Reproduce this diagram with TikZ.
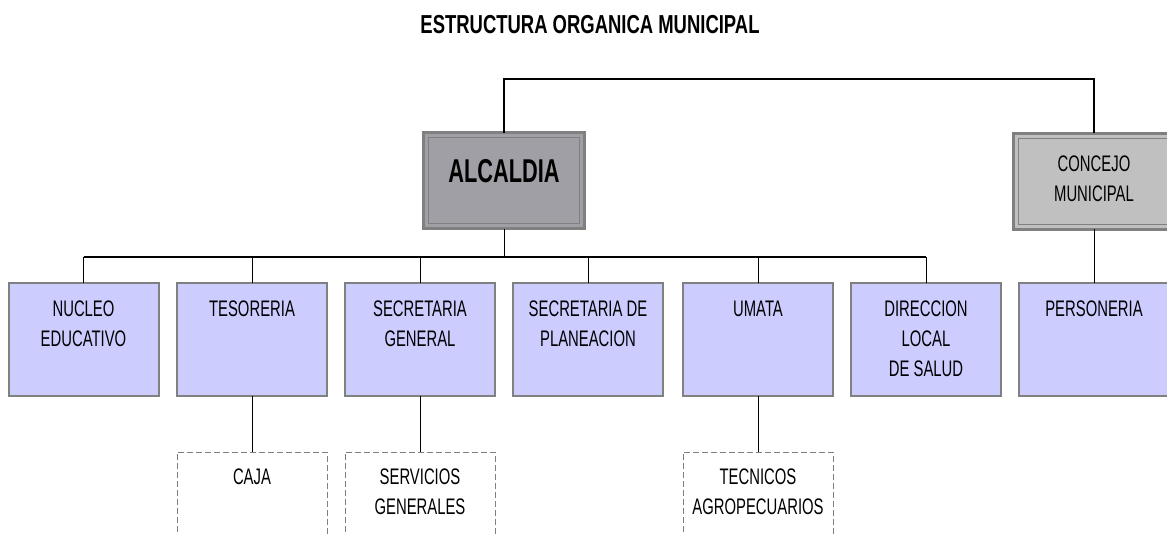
\documentclass[tikz,border=0pt]{standalone}
\usepackage{fontspec}
\setmainfont{Liberation Sans}[FakeStretch=0.66]
\newfontfamily\titlefont{Liberation Sans}[FakeStretch=0.71]
\usetikzlibrary{positioning}
\definecolor{bluefill}{HTML}{CCCCFF}
\definecolor{boxedge}{HTML}{808080}
\definecolor{alcfill}{HTML}{A09FA5}
\definecolor{conffill}{HTML}{C0C0C0}
\tikzset{
  unitbox/.style={draw=boxedge, line width=2pt, fill=bluefill, minimum width=150pt, minimum height=113pt, inner sep=0pt, outer sep=0pt},
  subbox/.style={draw=boxedge, line width=0.8pt, dash pattern=on 6pt off 3pt, minimum width=150pt, minimum height=130pt, inner sep=0pt, outer sep=0pt},
  headbox/.style={draw=boxedge, line width=3pt, minimum width=161pt, minimum height=96pt, inner sep=0pt, outer sep=0pt},
  inner/.style={draw=boxedge, line width=1pt},
  txt/.style={font=\fontsize{22.5}{30}\selectfont, align=center, anchor=north},
  bus/.style={line width=1.7pt, black},
  topbus/.style={line width=1.3pt, black},
  link/.style={line width=1pt, black},
}
\begin{document}
\begin{tikzpicture}[x=1pt,y=-1pt]
\useasboundingbox (0,0) rectangle (1167,533);
% title
\node[font=\titlefont\bfseries\fontsize{26}{30}\selectfont, anchor=base] (title) at (590,33) {ESTRUCTURA ORGANICA MUNICIPAL};
% head boxes
\node[headbox, fill=alcfill] (alc) at (504,180.5) {};
\draw[inner] ([shift={(5pt,5pt)}]alc.south west) rectangle ([shift={(-5pt,-5pt)}]alc.north east);
\node[font=\bfseries\fontsize{33}{36}\selectfont, anchor=base] (alct) at (504,182) {ALCALDIA};
\node[headbox, fill=conffill] (con) at (1094,181) {};
\draw[inner] ([shift={(5pt,5pt)}]con.south west) rectangle ([shift={(-5pt,-5pt)}]con.north east);
\node[txt] (cont) at (1094,152) {CONCEJO\\MUNICIPAL};
% unit boxes
\node[unitbox] (nuc) at (83.5,339.5) {};
\node[unitbox] (tes) at (252,339.5) {};
\node[unitbox] (sg) at (420,339.5) {};
\node[unitbox] (sp) at (588,339.5) {};
\node[unitbox] (uma) at (758,339.5) {};
\node[unitbox] (dir) at (926,339.5) {};
\node[unitbox] (per) at (1094,339.5) {};
\node[txt] at ([yshift=-14pt]nuc.north) {NUCLEO\\EDUCATIVO};
\node[txt] at ([yshift=-14pt]tes.north) {TESORERIA};
\node[txt] at ([yshift=-14pt]sg.north) {SECRETARIA\\GENERAL};
\node[txt] at ([yshift=-14pt]sp.north) {SECRETARIA DE\\PLANEACION};
\node[txt] at ([yshift=-14pt]uma.north) {UMATA};
\node[txt] at ([yshift=-14pt]dir.north) {DIRECCION\\LOCAL\\DE SALUD};
\node[txt] at ([yshift=-14pt]per.north) {PERSONERIA};
% sub boxes (cut by the page bottom)
\node[subbox, anchor=north] (caja) at (252,452) {};
\node[subbox, anchor=north] (serv) at (420,452) {};
\node[subbox, anchor=north] (tec) at (758,452) {};
\node[txt] at ([yshift=-13pt]caja.north) {CAJA};
\node[txt] at ([yshift=-13pt]serv.north) {SERVICIOS\\GENERALES};
\node[txt] at ([yshift=-13pt]tec.north) {TECNICOS\\AGROPECUARIOS};
% connectors
\coordinate (topL) at (504,79);
\coordinate (topR) at (1094,79);
\draw[topbus] (alc.north) -- (topL) -- (topR) -- (con.north);
\coordinate (busM) at (504,257);
\coordinate (busL) at (83.5,257);
\coordinate (busR) at (926,257);
\draw[link] (alc.south) -- (busM);
\draw[bus] (busL) -- (busR);
\foreach \n in {nuc,tes,sg,sp,uma,dir}{
  \draw[link] (\n.north) -- (\n.north |- busL);
}
\draw[link] (con.south) -- (per.north);
\draw[link] (tes.south) -- (caja.north);
\draw[link] (sg.south) -- (serv.north);
\draw[link] (uma.south) -- (tec.north);
\end{tikzpicture}
\end{document}
